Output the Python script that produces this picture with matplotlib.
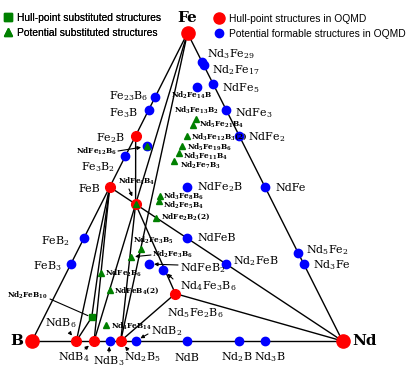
import re
import matplotlib.pyplot as plt
from matplotlib.lines import Line2D

plt.rcParams['mathtext.fontset'] = 'dejavuserif'

# compositions are atom counts (Nd, Fe, B)
hull_names = ["Fe", "B", "Nd", "Fe2B", "FeB", "NdB6", "NdB4", "Nd2B5",
              "NdFe4B4", "Nd5Fe2B6"]
hull_comp = [(0, 1, 0), (0, 0, 1), (1, 0, 0), (0, 2, 1), (0, 1, 1),
             (1, 0, 6), (1, 0, 4), (2, 0, 5), (1, 4, 4), (5, 2, 6)]

oqmd_names = ["Fe23B6", "Fe3B", "Fe3B2", "FeB2", "FeB3", "Nd3Fe29",
              "Nd2Fe17", "NdFe5", "NdFe3", "NdFe2", "NdFe", "Nd5Fe2",
              "Nd3Fe", "Nd2Fe14B", "NdFe12B6", "NdFe2B", "NdFeB", "Nd2FeB",
              "NdFeB2", "Nd4Fe3B6", "NdB3", "NdB2", "NdB", "Nd2B", "Nd3B"]
oqmd_comp = [(0, 23, 6), (0, 3, 1), (0, 3, 2), (0, 1, 2), (0, 1, 3),
             (3, 29, 0), (2, 17, 0), (1, 5, 0), (1, 3, 0), (1, 2, 0),
             (1, 1, 0), (5, 2, 0), (3, 1, 0), (2, 14, 1), (1, 12, 6),
             (1, 2, 1), (1, 1, 1), (2, 1, 1), (1, 1, 2), (4, 3, 6),
             (1, 0, 3), (1, 0, 2), (1, 0, 1), (2, 0, 1), (3, 0, 1)]

sub_hull_names = ["Nd2FeB10"]
sub_hull_comp = [(2, 1, 10)]

sub_names = ["Nd3Fe13B2", "Nd5Fe21B4", "Nd3Fe12B3(2)", "Nd5Fe19B6",
             "Nd3Fe11B4", "Nd2Fe7B3", "NdFe12B6", "NdFe4B4", "Nd3Fe8B6",
             "Nd2Fe5B4", "NdFe2B2(2)", "Nd2Fe3B5", "Nd2Fe3B6", "NdFe2B6",
             "NdFeB4(2)", "Nd4FeB14"]
sub_comp = [(3, 13, 2), (5, 21, 4), (3, 12, 3), (5, 19, 6), (3, 11, 4),
            (2, 7, 3), (1, 12, 6), (1, 4, 4), (3, 8, 6), (2, 5, 4),
            (1, 2, 2), (2, 3, 5), (2, 3, 6), (1, 2, 6), (1, 1, 4),
            (4, 1, 14)]

tie_lines = [("B", "Fe"), ("Fe", "Nd"), ("B", "Nd"),
             ("Fe", "NdFe4B4"), ("NdFe4B4", "NdB4"), ("Fe2B", "NdFe4B4"),
             ("FeB", "Nd"), ("Fe", "Nd2B5"), ("FeB", "NdB6"),
             ("FeB", "Nd2FeB10"), ("FeB", "NdB4"), ("Nd2FeB10", "NdB6"),
             ("NdFe4B4", "Nd2B5"), ("NdFe4B4", "Nd5Fe2B6"),
             ("Nd5Fe2B6", "Nd"), ("Nd5Fe2B6", "Nd2B5")]

# ---- layout (pixel frame of the figure) ----
VERTS = {"B": (32, 341), "Fe": (187.5, 33), "Nd": (342.5, 341)}

BIG = {  # name: (x, y, ha)
    "Fe23B6": (148, 95, "right"), "Fe3B": (138, 112, "right"),
    "Fe2B": (125, 137, "right"), "Fe3B2": (115, 166, "right"),
    "FeB": (100, 188, "right"), "FeB2": (70, 240, "right"),
    "FeB3": (62, 265, "right"), "NdB6": (45, 322, "left"),
    "NdB4": (58, 356, "left"), "NdB3": (109, 360, "center"),
    "Nd2B5": (124, 356, "left"), "NdB2": (151, 330, "left"),
    "NdB": (187, 357, "center"), "Nd2B": (237, 356, "center"),
    "Nd3B": (270, 356, "center"), "Nd3Fe29": (207, 53, "left"),
    "Nd2Fe17": (212, 69, "left"), "NdFe5": (222, 87, "left"),
    "NdFe3": (235, 112, "left"), "NdFe2": (248, 136, "left"),
    "NdFe": (275, 187, "left"), "Nd5Fe2": (306, 249, "left"),
    "Nd3Fe": (313, 264, "left"), "NdFe2B": (197, 186, "left"),
    "NdFeB": (197, 237, "left"), "Nd2FeB": (233, 260, "left"),
    "NdFeB2": (180, 267, "left"), "Nd4Fe3B6": (180, 285, "left"),
    "Nd5Fe2B6": (167, 312, "left"),
}
SMALL = {
    "Nd2Fe14B": (191, 95, "center"), "Nd3Fe13B2": (196, 110, "center"),
    "Nd5Fe21B4": (199, 124, "left"), "Nd3Fe12B3(2)": (191, 136, "left"),
    "Nd5Fe19B6": (187, 147, "left"), "Nd3Fe11B4": (183, 156, "left"),
    "Nd2Fe7B3": (180, 165, "left"), "NdFe12B6": (76, 151, "left"),
    "NdFe4B4": (118, 181, "left"), "Nd3Fe8B6": (163, 196, "left"),
    "Nd2Fe5B4": (163, 205, "left"), "NdFe2B2(2)": (161, 216, "left"),
    "Nd2Fe3B5": (153, 240, "center"), "Nd2Fe3B6": (152, 254, "left"),
    "NdFe2B6": (105, 273, "left"), "NdFeB4(2)": (114, 290, "left"),
    "Nd4FeB14": (111, 326, "left"), "Nd2FeB10": (7, 295, "left"),
}
ARROWS = {  # name: (start, shrink at target)
    "NdFe12B6": ((118, 151), 4), "NdFe4B4": ((129, 189), 6),
    "Nd2Fe3B6": ((151, 255), 3), "NdFeB2": ((178, 265), 4),
    "Nd4Fe3B6": ((173, 279), 4), "NdB6": ((70, 333), 5),
    "NdB4": ((85, 349), 5), "NdB3": ((109, 352), 4),
    "Nd2B5": ((128, 350), 5), "NdB2": ((148, 334), 4),
}


def to_xy(comp):
    nd, fe, b = comp
    tot = nd + fe + b
    x = (b * VERTS["B"][0] + fe * VERTS["Fe"][0] + nd * VERTS["Nd"][0]) / tot
    y = (b * VERTS["B"][1] + fe * VERTS["Fe"][1] + nd * VERTS["Nd"][1]) / tot
    return x, y


def formula(name, bold=False):
    if bold:
        return re.sub(r'(?<=[A-Za-z])(\d+)', r'$_{\\mathbf{\1}}$', name)
    return re.sub(r'(?<=[A-Za-z])(\d+)', r'$_{\1}$', name)


def main():
    pos = {}
    for names, comps in [(hull_names, hull_comp), (oqmd_names, oqmd_comp),
                         (sub_hull_names, sub_hull_comp),
                         (sub_names, sub_comp)]:
        for n, c in zip(names, comps):
            pos.setdefault(n, to_xy(c))

    fig = plt.figure(figsize=(4.15, 3.77), dpi=100)
    ax = fig.add_axes([0, 0, 1, 1])
    ax.set_xlim(0, 415)
    ax.set_ylim(377, 0)
    ax.axis('off')

    for a, b in tie_lines:
        ax.plot([pos[a][0], pos[b][0]], [pos[a][1], pos[b][1]],
                color='black', lw=1.0, zorder=1)

    # markers
    for n in oqmd_names:
        ax.plot(*pos[n], 'o', color='#0000ff', ms=6, zorder=3)
    for n in hull_names:
        ms = 9.5 if n in VERTS else 7
        ax.plot(*pos[n], 'o', color='#ff0000', ms=ms, zorder=3)
    for n in sub_hull_names:
        ax.plot(*pos[n], 's', color='#008000', ms=5, zorder=4)
    for n in sub_names:
        ax.plot(*pos[n], '^', color='#008000', ms=4.5, zorder=4)

    serif = 'DejaVu Serif'
    for n, (x, y, ha) in BIG.items():
        ax.text(x, y + 4, formula(n), fontsize=8, family=serif,
                ha=ha, va='baseline', zorder=5)
    for n, (x, y, ha) in SMALL.items():
        ax.text(x, y + 2.7, formula(n, bold=True), fontsize=5.3,
                family=serif, fontweight='bold', ha=ha, va='baseline',
                zorder=5)
    ax.text(187.5, 18, "Fe", fontsize=11, family=serif, fontweight='bold',
            ha='center', va='center')
    ax.text(17, 341, "B", fontsize=11, family=serif, fontweight='bold',
            ha='center', va='center')
    ax.text(352, 341, "Nd", fontsize=11, family=serif, fontweight='bold',
            ha='left', va='center')

    for n, (start, shrink) in ARROWS.items():
        ax.annotate("", xy=pos[n], xytext=start,
                    arrowprops=dict(arrowstyle='-|>', color='black', lw=0.8,
                                    mutation_scale=5, shrinkA=0,
                                    shrinkB=shrink), zorder=5)
    ax.annotate("", xy=pos["Nd2FeB10"], xytext=(50, 299),
                arrowprops=dict(arrowstyle='-', color='black', lw=0.8,
                                shrinkA=0, shrinkB=3))

    sans = 'Liberation Sans'
    h1 = [Line2D([], [], ls='none', marker='s', color='#008000', ms=6),
          Line2D([], [], ls='none', marker='^', color='#008000', ms=6)]
    leg1 = fig.legend(h1, ["Hull-point substituted structures",
                           "Potential substituted structures"],
                      loc='upper left', bbox_to_anchor=(0.006, 0.966),
                      frameon=False, borderpad=0, borderaxespad=0,
                      handlelength=1.0, handletextpad=0.45,
                      labelspacing=0.5, prop={'family': sans, 'size': 7.4})
    fig.add_artist(leg1)
    h2 = [Line2D([], [], ls='none', marker='o', color='#ff0000', ms=8),
          Line2D([], [], ls='none', marker='o', color='#0000ff', ms=6)]
    fig.legend(h2, ["Hull-point structures in OQMD",
                    "Potential formable structures in OQMD"],
               loc='upper left', bbox_to_anchor=(0.515, 0.964),
               frameon=False, borderpad=0, borderaxespad=0,
               handlelength=1.0, handletextpad=0.5,
               labelspacing=0.5, prop={'family': sans, 'size': 7.4})

    plt.savefig('out.png', dpi=100)


if __name__ == "__main__":
    main()
